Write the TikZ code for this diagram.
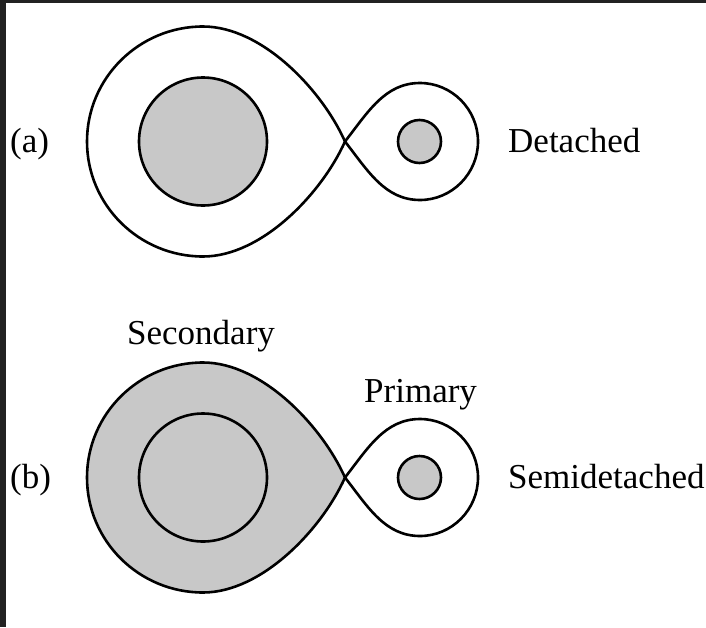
\documentclass[tikz,border=0pt]{standalone}
\usepackage{fontspec}
\setmainfont{Liberation Serif}
\definecolor{starfill}{RGB}{200,200,200}
\definecolor{edgeband}{RGB}{34,34,34}
\tikzset{
  outline/.style={draw=black, line width=2.6pt, line join=round},
  caption/.style={font=\fontsize{35}{40}\selectfont, inner sep=0pt, anchor=base west},
  % Roche lobe of the larger star, cusp at the inner Lagrangian point
  pics/biglobe/.style={code={
    \path[pic actions] (345,141.5) .. controls (322,90) and (262,26.5) .. (203,26.5)
      .. controls (139,26.5) and (87,78) .. (87,141.5)
      .. controls (87,205) and (139,256.5) .. (203,256.5)
      .. controls (262,256.5) and (322,193) .. cycle;
  }},
  % Roche lobe of the smaller star
  pics/smalllobe/.style={code={
    \path[pic actions] (345,141.5) .. controls (368,112) and (385,83) .. (420,83)
      .. controls (452,83) and (478,109.5) .. (478,141.5)
      .. controls (478,173.5) and (452,200) .. (420,200)
      .. controls (385,200) and (368,171) .. cycle;
  }},
}
\begin{document}
\begin{tikzpicture}[x=1pt, y=-1pt]
  \useasboundingbox (0,0) rectangle (706,627);
  \fill[white] (0,0) rectangle (706,627);
  \fill[edgeband] (0,0) rectangle (706,3);
  \fill[edgeband] (0,0) rectangle (6,627);

  % (a) detached system
  \pic[outline, fill=white] at (0,0) {biglobe};
  \pic[outline, fill=white] at (0,0) {smalllobe};
  \fill[starfill, outline] (203,141.5) circle[radius=64];
  \fill[starfill, outline] (419.5,141.5) circle[radius=21.5];
  \node[caption] (tagA) at (10,152) {(a)};
  \node[caption] (detached) at (508,152) {Detached};

  % (b) semidetached system: secondary fills its Roche lobe
  \begin{scope}[yshift=-336pt]
    \pic[outline, fill=starfill] at (0,0) {biglobe};
    \pic[outline, fill=white] at (0,0) {smalllobe};
    \draw[outline] (203,141.5) circle[radius=64];
    \fill[starfill, outline] (419.5,141.5) circle[radius=21.5];
    \node[caption] (tagB) at (10,152) {(b)};
    \node[caption] (semidetached) at (508,152) {Semidetached};
    \node[caption] (secondary) at (127,8) {Secondary};
    \node[caption] (primary) at (364,66) {Primary};
  \end{scope}
\end{tikzpicture}
\end{document}
